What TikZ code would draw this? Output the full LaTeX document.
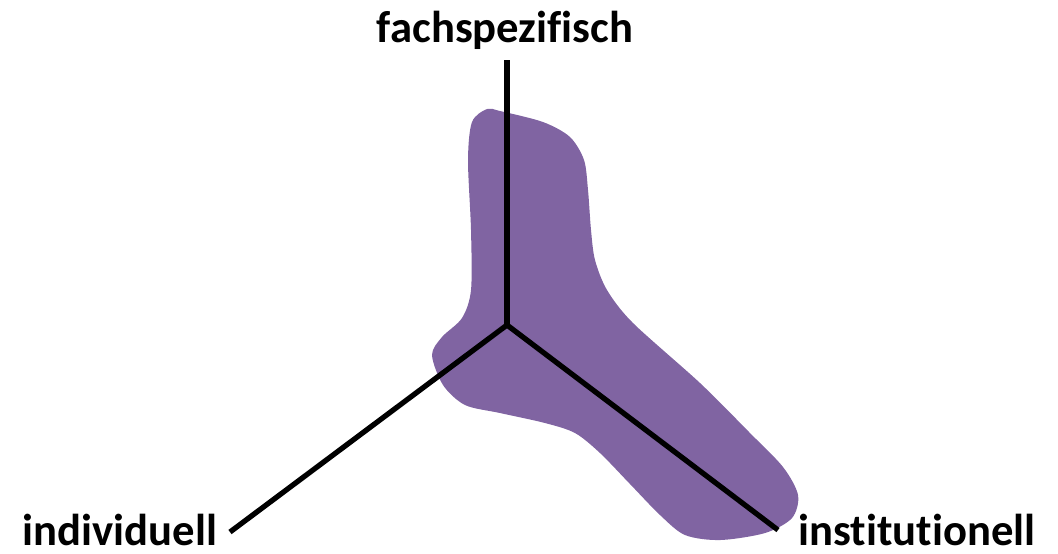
\documentclass[tikz,border=0pt]{standalone}
\usepackage{fontspec}
\setmainfont[Ligatures=NoCommon]{Carlito}
\usepackage{tikz}
\definecolor{blobviolet}{HTML}{8064A2}
\tikzset{axis/.style = {line width = 1.5pt, black},
  lbl/.style = {font = \fontsize{12.7}{14}\selectfont\bfseries, inner sep = 0, anchor = base}}

\begin{document}
\begin{tikzpicture}[x=0.01cm, y=-0.01cm]
    \useasboundingbox (0, 0) rectangle (1058, 553);
    \fill [blobviolet] plot [smooth cycle, tension=0.5] coordinates {
      (487, 109) (500, 111) (543, 122) (570, 137) (584, 160) (588, 190) (591, 230)
      (595, 260) (607, 290) (633, 323) (700, 383) (750, 433) (783, 467) (798, 495)
      (792, 518) (765, 533) (720, 540) (685, 535) (660, 515) (630, 484) (600, 453)
      (575, 433) (545, 423) (500, 413) (465, 405) (443, 385) (432, 355) (442, 337)
      (462, 318) (471, 290) (471, 230) (468, 160) (472, 122)};

    \coordinate (centre) at (507, 325);
    \coordinate (topend) at (507, 60);
    \coordinate (leftend) at (230, 532);
    \coordinate (rightend) at (778, 530);
    \draw [axis] (centre) -- (topend);
    \draw [axis] (centre) -- (leftend);
    \draw [axis] (centre) -- (rightend);

    \node [lbl] (fach) at (505, 42) {fachspezifisch};
    \node [lbl] (indiv) at (120, 545) {individuell};
    \node [lbl] (inst) at (917, 545) {institutionell};
  \end{tikzpicture}
\end{document}
